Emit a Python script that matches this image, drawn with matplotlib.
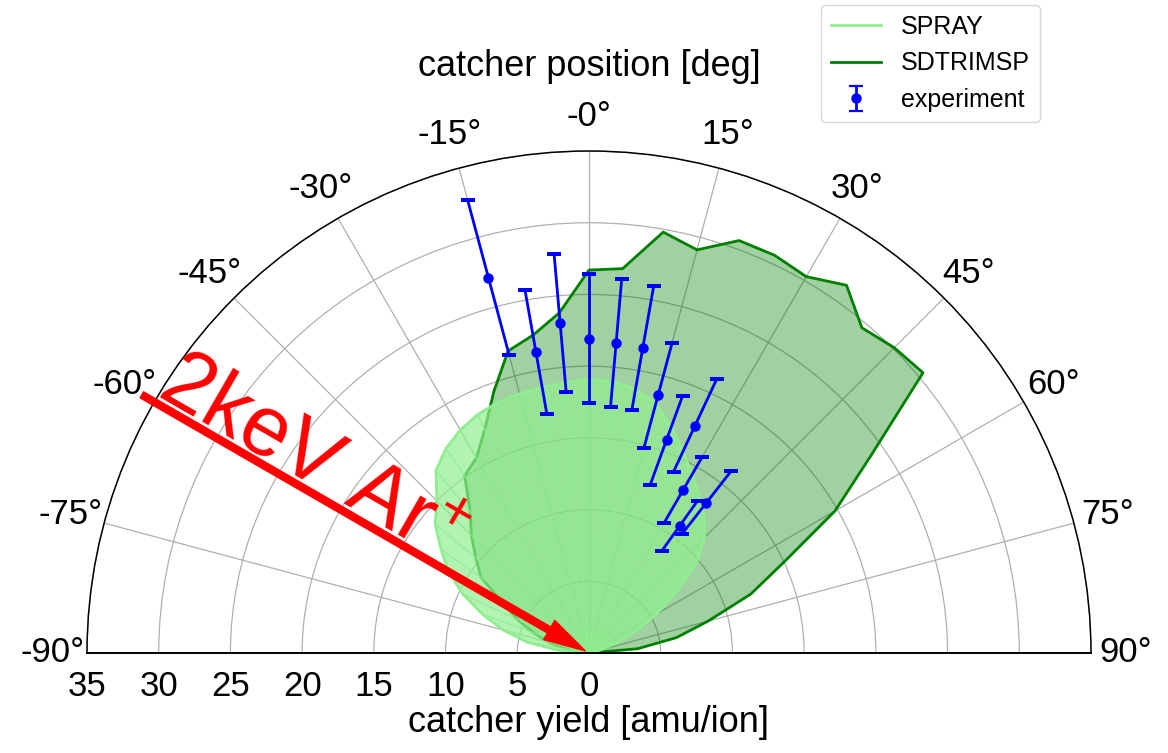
import numpy as np
import matplotlib
matplotlib.use("Agg")
import matplotlib.pyplot as plt
from matplotlib.patches import Polygon
from matplotlib.transforms import offset_copy

plt.rcParams['font.family'] = ['Liberation Sans', 'DejaVu Sans']
plt.rcParams['mathtext.fontset'] = 'custom'
plt.rcParams['mathtext.rm'] = 'Liberation Sans'
plt.rcParams['mathtext.it'] = 'Liberation Sans:italic'
plt.rcParams['mathtext.bf'] = 'Liberation Sans:bold'

# ---- data -------------------------------------------------------------
# simulation angles (deg), -90 .. 90 in 5 deg steps
sim_angle = np.arange(-90, 91, 5)

spray_yield = [0.0, 2.2, 4.4, 6.2, 7.9, 9.7, 11.3, 12.6, 14.0, 15.0,
               16.6, 17.4, 17.95, 18.35, 18.6, 18.7, 18.8, 18.9, 19.1,
               19.0, 18.7, 18.0, 16.8, 15.5, 14.4, 13.4, 12.5, 11.4,
               9.8, 7.5, 5.4, 3.6, 2.1, 0.8, 0.3, 0.1, 0.0]

sdtrimsp_yield = [0.0, 0.8, 1.7, 2.9, 4.1, 5.5, 6.9, 9.2, 10.3, 11.6,
                  12.9, 15.1, 15.7, 17.2, 19.4, 21.8, 22.5, 23.8, 26.7,
                  26.9, 29.8, 29.1, 30.6, 30.6, 30.3, 31.3, 29.6, 30.1,
                  30.4, 24.0, 19.8, 15.0, 12.0, 8.6, 6.2, 3.4, 0.0]

exp_angle = [-15, -10, -5, 0, 5, 10, 15, 20, 25, 30, 38, 35.5]
exp_yield = [27.1, 21.3, 23.1, 21.9, 21.7, 21.6, 18.6, 15.8, 17.5, 13.1, 13.3, 10.9]
exp_err = [5.6, 4.4, 4.8, 4.5, 4.45, 4.4, 3.8, 3.3, 3.55, 2.65, 2.8, 2.15]

theta_ticks = np.arange(-90, 91, 15)
theta_labels = ['-90°', '-75°', '-60°', '-45°', '-30°', '-15°', '-0°',
                '15°', '30°', '45°', '60°', '75°', '90°']
r_ticks = [35, 30, 25, 20, 15, 10, 5, 0]

# ---- figure -----------------------------------------------------------
W, H = 1168, 753
fig = plt.figure(figsize=(W / 100, H / 100), dpi=100)
# polar axes keep a square box; the upper half-disc sits centred in it
ax = fig.add_axes([87 / W, -151 / H, 1004 / W, 1004 / H], projection='polar')
ax.set_theta_zero_location('N')
ax.set_theta_direction(-1)
ax.set_thetamin(-90)
ax.set_thetamax(90)
ax.set_rlim(0, 35)
ax.set_axisbelow(True)

ax.set_thetagrids(theta_ticks, labels=theta_labels, fontsize=25)
ax.tick_params(axis='x', pad=18, length=0)
ax.set_yticks(np.arange(5, 36, 5))
ax.set_yticklabels([])
ax.tick_params(axis='y', length=0)
ax.grid(True, color='#b0b0b0', lw=0.9)
ax.spines['polar'].set_linewidth(1.1)
ax.spines['start'].set_linewidth(1.4)
ax.spines['end'].set_linewidth(1.4)

th = np.deg2rad(sim_angle)

# SDTRIMSP distribution
ax.fill(th, sdtrimsp_yield, facecolor='green', alpha=0.37,
        edgecolor='none', zorder=1)
sd_line, = ax.plot(th, sdtrimsp_yield, color='green', lw=2, zorder=1.2)

# SPRAY distribution, filled wedge by wedge
for i in range(len(th) - 1):
    tri = Polygon([[0, 0], [th[i], spray_yield[i]],
                   [th[i + 1], spray_yield[i + 1]]], closed=True,
                  facecolor='lightgreen', edgecolor='lightgreen',
                  lw=0.7, alpha=0.7, zorder=1.5)
    ax.add_patch(tri)
spray_line, = ax.plot(th, spray_yield, color='lightgreen', lw=2, zorder=1.6)

# measurement with error bars; keep the caps screen-horizontal
n_before = len(ax.lines)
eb = ax.errorbar(np.deg2rad(exp_angle), exp_yield, yerr=exp_err, fmt='o',
                 color='blue', ms=6.5, lw=2, capsize=5, capthick=1.6, zorder=3)
for ln in list(ax.lines[n_before:]):
    if ln is not eb[0]:
        ln.remove()
for cap in eb[1]:
    cap.set_zorder(3)
    ax.add_line(cap)

# incident beam arrow
ax.annotate('', xy=(np.deg2rad(-60), 0.3), xytext=(np.deg2rad(-60), 36),
            arrowprops=dict(facecolor='red', edgecolor='red', width=5,
                            headwidth=16, headlength=30, shrink=0),
            annotation_clip=False, zorder=4)
ax.text(np.deg2rad(-59.3), 35.2, r'2keV Ar$^{+}$', color='red', fontsize=61,
        rotation=-30, rotation_mode='anchor', ha='left', va='baseline',
        zorder=4)

# radial scale written along the left half of the base line
rtrans = offset_copy(ax.transData, fig=fig, x=0, y=-33, units='dots')
for r in r_ticks:
    ax.text(np.deg2rad(-90), r, str(r), transform=rtrans, ha='center',
            va='center', fontsize=25)

fig.text(589 / W, 1 - 66 / H, 'catcher position [deg]', ha='center',
         va='center', fontsize=26)
fig.text(589 / W, 1 - 722 / H, 'catcher yield [amu/ion]', ha='center',
         va='center', fontsize=26)

fig.legend(handles=[spray_line, sd_line, eb],
           labels=['SPRAY', 'SDTRIMSP', 'experiment'],
           loc='upper right', bbox_to_anchor=(1040 / W, 1 - 5 / H),
           borderaxespad=0, fontsize=18)

fig.savefig('out.png', dpi=100)
